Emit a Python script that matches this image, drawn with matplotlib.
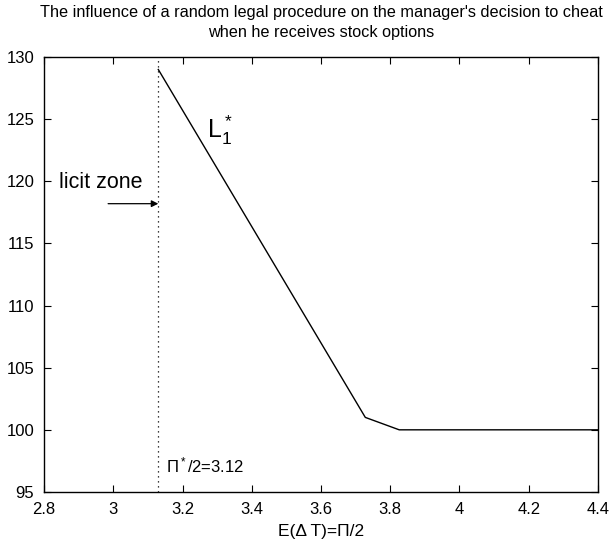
import numpy as np
import matplotlib
matplotlib.use("Agg")
import matplotlib.pyplot as plt

plt.rcParams['font.family'] = ['Liberation Sans', 'DejaVu Sans']
plt.rcParams['mathtext.fontset'] = 'custom'
plt.rcParams['mathtext.rm'] = 'Liberation Sans'
plt.rcParams['mathtext.it'] = 'Liberation Sans'

# L1* curve
x = [3.13, 3.728, 3.826, 4.4]
y = [129.0, 101.0, 100.0, 100.0]

pi_half = 3.13
xticks = [2.8, 3.0, 3.2, 3.4, 3.6, 3.8, 4.0, 4.2, 4.4]
xticklabels = ["2.8", "3", "3.2", "3.4", "3.6", "3.8", "4", "4.2", "4.4"]
yticks = [95, 100, 105, 110, 115, 120, 125, 130]

fig = plt.figure(figsize=(6.12, 5.54), dpi=100)
ax = fig.add_axes([0.072, 0.112, 0.905, 0.785])

ax.plot(x, y, color="black", lw=1.0)
ax.axvline(pi_half, color="black", lw=0.9, ls=(0, (1, 3)))

ax.annotate("", xy=(pi_half, 118.2), xytext=(2.985, 118.2),
            arrowprops=dict(arrowstyle="-|>", color="black", lw=0.9,
                            mutation_scale=10, shrinkA=0, shrinkB=0))
ax.text(2.843, 119.9, "licit zone", fontsize=15.5, va="center", ha="left")
ax.text(3.272, 123.5, r"$\mathrm{L}_1^*$", fontsize=18, va="baseline", ha="left")
ax.text(3.153, 96.57, r"$\Pi^*$/2=3.12", fontsize=12, va="baseline", ha="left")

ax.set_xlim(2.8, 4.4)
ax.set_ylim(95, 130)
ax.set_xticks(xticks)
ax.set_xticklabels(xticklabels)
ax.set_yticks(yticks)
ax.tick_params(direction="in", top=True, right=True, length=5, width=0.8,
               labelsize=12, pad=7)
for s in ax.spines.values():
    s.set_linewidth(1.0)

ax.set_xlabel("E(Δ T)=Π/2", fontsize=12.5, labelpad=5)
ax.set_title("The influence of a random legal procedure on the manager's decision to cheat\n"
             "when he receives stock options", fontsize=11.7, pad=14.5, linespacing=1.4)

fig.savefig("out.png", dpi=100)
